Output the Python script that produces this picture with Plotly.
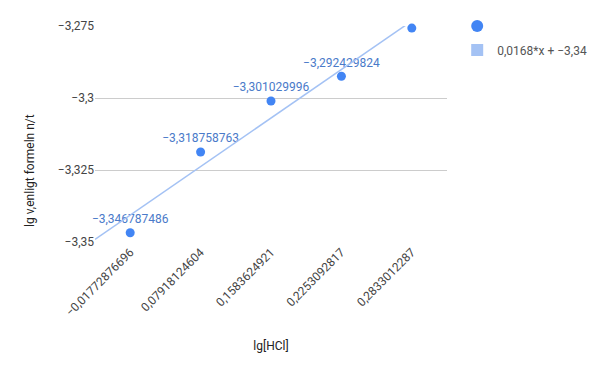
import numpy as np
import plotly.graph_objects as go

categories = ["−0,01772876696", "0,07918124604", "0,1583624921", "0,2253092817", "0,2833012287"]
y_values = [-3.346787486, -3.318758763, -3.301029996, -3.292429824, -3.275724130]
point_labels = ["−3,346787486", "−3,318758763", "−3,301029996", "−3,292429824", ""]
y_tick_vals = [-3.35, -3.325, -3.3, -3.275]
y_tick_text = ["−3,35", "−3,325", "−3,3", "−3,275"]
trend_name = "0,0168*x + −3,34"

idx = np.arange(len(categories))
slope, intercept = np.polyfit(idx, y_values, 1)
tx = np.array([-0.5, len(categories) - 0.5])
ty = slope * tx + intercept

POINT = "#4285f4"
TREND = "#a4c2f4"
LABEL = "#4a7ac9"
FONT = "Roboto"

fig = go.Figure()
fig.add_trace(go.Scatter(
    x=tx, y=ty, mode="lines", line=dict(color=TREND, width=1.5),
    showlegend=False, hoverinfo="skip", xaxis="x2", yaxis="y"))
fig.add_trace(go.Scatter(
    x=categories, y=y_values, mode="markers+text", name="", legendgroup="pts",
    text=point_labels, textposition="top center",
    textfont=dict(color=LABEL, size=12, family=FONT),
    marker=dict(color=POINT, size=9), cliponaxis=False))
fig.add_trace(go.Scatter(
    x=[None], y=[None], mode="markers", name=trend_name, legendgroup="trend",
    marker=dict(color=TREND, symbol="square", size=12)))

fig.update_layout(
    width=600, height=371,
    margin=dict(l=95, r=153, t=26, b=129, autoexpand=False),
    paper_bgcolor="white", plot_bgcolor="white",
    font=dict(family=FONT, size=12, color="#444444"),
    legend=dict(x=0.762, y=0.969, xref="container", yref="container",
                xanchor="left", yanchor="top",
                font=dict(size=12, color="#555555"), itemsizing="constant",
                tracegroupgap=5, bgcolor="rgba(0,0,0,0)"),
    xaxis=dict(type="category", tickangle=-45, showgrid=False, showline=False,
               ticks="", tickfont=dict(size=12, color="#444444"),
               range=[-0.5, len(categories) - 0.5], zeroline=False,
               title=dict(text="lg[HCl]", font=dict(size=12, color="#222222"), standoff=23)),
    xaxis2=dict(overlaying="x", range=[-0.5, len(categories) - 0.5], visible=False),
    yaxis=dict(range=[-3.35, -3.275], tickvals=y_tick_vals, ticktext=y_tick_text,
               showgrid=True, gridcolor="#cccccc", gridwidth=1, zeroline=False,
               showline=False, ticks="", ticklen=0,
               tickfont=dict(size=12, color="#444444")),
    annotations=[dict(text="lg v,enligt formeln n/t", textangle=-90,
                      xref="paper", yref="paper", x=-0.185, y=0.333,
                      xanchor="center", yanchor="middle",
                      showarrow=False, font=dict(size=12, color="#222222"))],
)
fig.write_html("out.html")
